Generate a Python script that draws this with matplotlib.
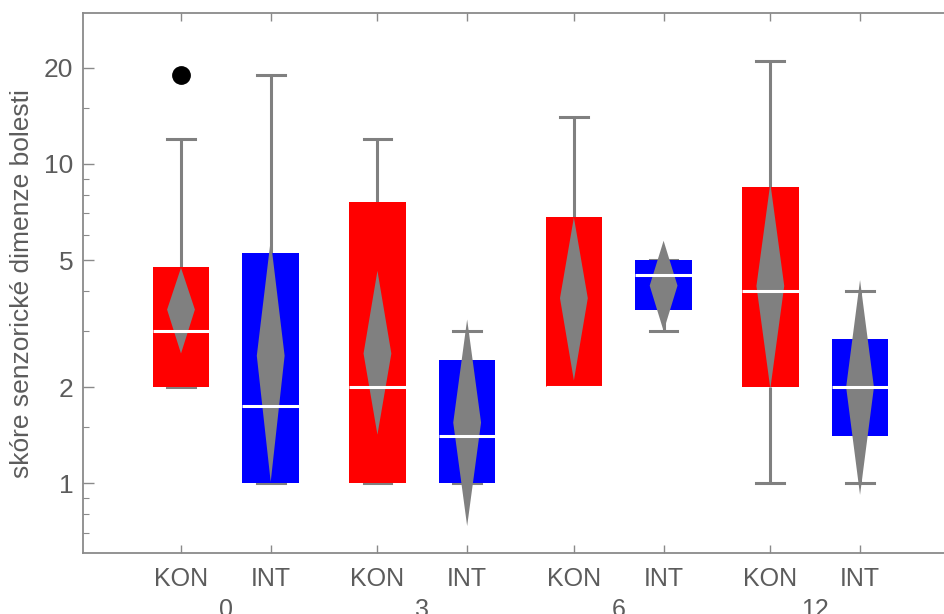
import matplotlib
matplotlib.use("Agg")
import matplotlib.pyplot as plt
from matplotlib.ticker import FixedLocator, NullFormatter, FixedFormatter
from matplotlib.transforms import blended_transform_factory

plt.rcParams['font.family'] = ['Liberation Sans', 'DejaVu Sans']

# ---- data ----
groups = ['0', '3', '6', '12']
series = ['KON', 'INT']

kon_whislo = [2, 1, 2, 1]
kon_q1 = [2, 1, 2, 2]
kon_med = [3, 2, 2, 4]
kon_q3 = [4.75, 7.6, 6.8, 8.5]
kon_whishi = [12, 12, 14, 21]
kon_fliers = [[19], [], [], []]
kon_mean = [3.5, 2.55, 3.8, 4.15]
kon_ci_lo = [2.55, 1.42, 2.1, 1.98]
kon_ci_hi = [4.73, 4.63, 6.8, 8.7]

int_whislo = [1, 1, 3, 1]
int_q1 = [1, 1, 3.5, 1.41]
int_med = [1.75, 1.41, 4.5, 2]
int_q3 = [5.25, 2.43, 5, 2.83]
int_whishi = [19, 3, 5, 4]
int_fliers = [[], [], [], []]
int_mean = [2.51, 1.55, 4.16, 2.0]
int_ci_lo = [1.01, 0.735, 3.0, 0.92]
int_ci_hi = [5.78, 3.26, 5.75, 4.33]

major_ticks = [1, 2, 5, 10, 20]
minor_ticks = [0.7, 0.8, 0.9, 1.5, 3, 4, 6, 7, 8, 9, 15]
ylabel = 'skóre senzorické dimenze bolesti'

# ---- style ----
RED = '#ff0000'
BLUE = '#0000ff'
GRAY = '#808080'
TXT = '#5c5c5c'
SPINE = '#8a8a8a'
GAP = 2.19
BOX_W = 0.63
DIA_W = 0.31

fig = plt.figure(figsize=(9.44, 6.14), dpi=100)
ax = fig.add_axes([83 / 944, (614 - 553.3) / 614, (944 - 83) / 944, (553.3 - 13) / 614])
ax.set_yscale('log')

def draw_series(offset, color, whislo, q1, med, q3, whishi, fliers, mean, lo, hi):
    pos = [g * GAP + offset for g in range(len(groups))]
    stats = []
    for i in range(len(groups)):
        stats.append(dict(whislo=whislo[i], q1=q1[i], med=med[i], q3=q3[i],
                          whishi=whishi[i], fliers=fliers[i]))
    art = ax.bxp(stats, positions=pos, widths=BOX_W, patch_artist=True,
                 capwidths=DIA_W, manage_ticks=False,
                 boxprops=dict(facecolor=color, edgecolor='none', linewidth=0),
                 whiskerprops=dict(color=GRAY, linewidth=2.2, solid_capstyle='butt'),
                 capprops=dict(color=GRAY, linewidth=2.2),
                 medianprops=dict(color='white', linewidth=2.2, solid_capstyle='butt'),
                 flierprops=dict(marker='o', markerfacecolor='black',
                                 markeredgecolor='black', markersize=12.5))
    for a in art['whiskers'] + art['caps']:
        a.set_zorder(1)
    for a in art['boxes']:
        a.set_zorder(2)
    for a in art['medians']:
        a.set_zorder(4)
    for a in art['fliers']:
        a.set_zorder(5)
    for i, x in enumerate(pos):
        ax.fill([x, x + DIA_W / 2, x, x - DIA_W / 2],
                [lo[i], mean[i], hi[i], mean[i]],
                color=GRAY, linewidth=0, zorder=3)
    return pos

pos_kon = draw_series(0, RED, kon_whislo, kon_q1, kon_med, kon_q3, kon_whishi,
                      kon_fliers, kon_mean, kon_ci_lo, kon_ci_hi)
pos_int = draw_series(1, BLUE, int_whislo, int_q1, int_med, int_q3, int_whishi,
                      int_fliers, int_mean, int_ci_lo, int_ci_hi)

ax.set_xlim(-1.0925, 8.506)
ax.set_ylim(0.604, 29.7)

ax.yaxis.set_major_locator(FixedLocator(major_ticks))
ax.yaxis.set_major_formatter(FixedFormatter([str(t) for t in major_ticks]))
ax.yaxis.set_minor_locator(FixedLocator(minor_ticks))
ax.yaxis.set_minor_formatter(NullFormatter())

xt = sorted(pos_kon + pos_int)
ax.set_xticks(xt)
ax.set_xticklabels([series[0] if x in pos_kon else series[1] for x in xt])
ax.xaxis.set_minor_locator(FixedLocator([]))

ax.tick_params(axis='y', which='major', direction='in', length=8, width=1,
               color=SPINE, labelsize=19, labelcolor=TXT, pad=7)
ax.tick_params(axis='y', which='minor', direction='in', length=4.5, width=0.8,
               color=SPINE)
ax.tick_params(axis='x', which='major', direction='in', length=6, width=1,
               color=SPINE, labelsize=18, labelcolor=TXT, pad=10, top=True)

for s in ['left', 'top', 'bottom']:
    ax.spines[s].set_color(SPINE)
    ax.spines[s].set_linewidth(1.3)
ax.spines['right'].set_visible(False)

trans = blended_transform_factory(ax.transData, ax.transAxes)
for g, name in enumerate(groups):
    xc = (pos_kon[g] + pos_int[g]) / 2
    ax.text(xc, -0.082, name, transform=trans, ha='center', va='top',
            fontsize=18, color=TXT)

ax.set_ylabel(ylabel, fontsize=19, color=TXT)
ax.yaxis.set_label_coords(-0.057, 0.5)
ax.patch.set_facecolor('white')

fig.savefig('out.png', dpi=100)
